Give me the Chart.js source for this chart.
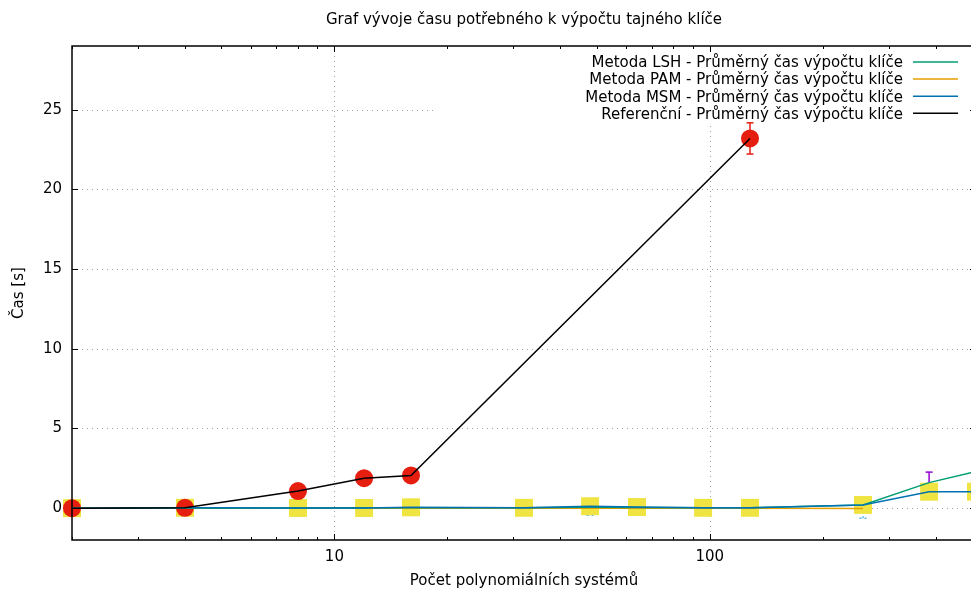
<!DOCTYPE html>
<html lang="cs">
<head>
<meta charset="utf-8">
<title>Graf vývoje času potřebného k výpočtu tajného klíče</title>
<script src="https://cdn.jsdelivr.net/npm/chart.js@4.4.1/dist/chart.umd.min.js"></script>
<style>
  html, body { margin: 0; padding: 0; background: #fff; overflow: hidden; }
  #obal { width: 1048px; height: 592px; }
</style>
</head>
<body>
<div id="obal"><canvas id="graf" width="1048" height="592"></canvas></div>
<script>
// ---------- Data ----------
const pocetSystemu = [2, 4, 8, 12, 16, 32, 48, 64, 96, 128, 256, 384, 512];

const casLSH   = [0, 0.01, 0.01, 0.02, 0.03, 0.02, 0.05, 0.04, 0.02, 0.02, 0.2, 1.6, 2.3];
const chybaLSH = [0, 0, 0, 0, 0, 0, 0, 0, 0, 0, 0, 0.66, 0.12];

const pocetPAM = [2, 4, 8, 12, 16, 32, 48, 64, 96, 128, 256];
const casPAM   = [0, 0, -0.01, -0.01, 0, -0.01, 0, 0, -0.01, -0.01, -0.02];
const chybaPAM = [0, 0, 0, 0, 0, 0, 0.45, 0.45, 0, 0, 0.62];

const casMSM   = [0, 0.02, 0.01, 0.01, 0.05, 0.02, 0.12, 0.07, 0.02, 0.02, 0.2, 1.03, 1.03];

const pocetRef = [2, 4, 8, 12, 16, 128];
const casRef   = [0, 0.02, 1.07, 1.88, 2.05, 23.2];
const chybaRef = [0, 0, 0, 0, 0, 0.98];

const yTicks  = [0, 5, 10, 15, 20, 25];
const xTicks  = [2, 3, 4, 5, 6, 7, 8, 9, 10, 20, 30, 40, 50, 60, 70, 80, 90, 100, 200, 300, 400, 500];
const xLabels = [10, 100];

const titulek = "Graf vývoje času potřebného k výpočtu tajného klíče";
const osaX = "Počet polynomiálních systémů";
const osaY = "Čas [s]";

const body = (xs, ys) => xs.map((x, i) => ({ x, y: ys[i] }));

// ---------- Kreslení rámu, mřížky, chybových úseček a legendy ----------
function usecka(ctx, x1, y1, x2, y2) {
  ctx.beginPath();
  ctx.moveTo(x1, y1);
  ctx.lineTo(x2, y2);
  ctx.stroke();
}

function chyboveUsecky(chart, xs, ys, errs, color, dash) {
  const { ctx, scales: { x, y } } = chart;
  ctx.strokeStyle = color;
  ctx.lineWidth = 1.5;
  ctx.setLineDash(dash || []);
  xs.forEach((xv, i) => {
    if (!errs[i]) return;
    const px = x.getPixelForValue(xv);
    const lo = y.getPixelForValue(ys[i] - errs[i]);
    const hi = y.getPixelForValue(ys[i] + errs[i]);
    usecka(ctx, px, lo, px, hi);
    usecka(ctx, px - 3.5, lo, px + 3.5, lo);
    usecka(ctx, px - 3.5, hi, px + 3.5, hi);
  });
  ctx.setLineDash([]);
}

const gnuplotRam = {
  id: "gnuplotRam",
  beforeDatasetsDraw(chart) {
    const { ctx, chartArea: a, scales: { x, y } } = chart;
    ctx.save();
    // mřížka
    ctx.strokeStyle = "#a0a0a0";
    ctx.lineWidth = 1;
    ctx.setLineDash([1, 4]);
    yTicks.forEach((v) => {
      const py = Math.round(y.getPixelForValue(v)) + 0.5;
      usecka(ctx, a.left, py, a.right, py);
    });
    xLabels.forEach((v) => {
      const px = Math.round(x.getPixelForValue(v)) + 0.5;
      usecka(ctx, px, a.top, px, a.bottom);
    });
    ctx.setLineDash([]);
    // neprůhledné pozadí legendy
    ctx.fillStyle = "#fff";
    ctx.fillRect(437, a.top, a.right - 437, 122 - a.top);
    // chybové úsečky
    chyboveUsecky(chart, pocetPAM, casPAM, chybaPAM, "#56b4e9", [2, 3]);
    chyboveUsecky(chart, pocetSystemu, casLSH, chybaLSH, "#9400d3");
    chyboveUsecky(chart, pocetRef, casRef, chybaRef, "#e51e10");
    ctx.restore();
  },
  afterDatasetsDraw(chart) {
    const { ctx, chartArea: a } = chart;
    ctx.save();
    ctx.font = '15px "DejaVu Sans"';
    ctx.textAlign = "right";
    ctx.textBaseline = "middle";
    ctx.fillStyle = "#000";
    chart.data.datasets
      .filter((d) => d.klic)
      .forEach((d, i) => {
        const yy = a.top + 16 + i * 17.1;
        ctx.fillText(d.label, a.right - 73, yy + 1.5);
        ctx.strokeStyle = d.borderColor;
        ctx.lineWidth = 1.5;
        usecka(ctx, a.right - 63, yy, a.right - 18, yy);
      });
    ctx.restore();
  },
  afterDraw(chart) {
    const { ctx, chartArea: a, scales: { x, y } } = chart;
    ctx.save();
    ctx.strokeStyle = "#000";
    ctx.lineWidth = 1;
    xTicks.forEach((v) => {
      const px = Math.round(x.getPixelForValue(v)) + 0.5;
      const len = xLabels.includes(v) ? 6 : 3;
      usecka(ctx, px, a.bottom, px, a.bottom - len);
      usecka(ctx, px, a.top, px, a.top + len);
    });
    yTicks.forEach((v) => {
      const py = Math.round(y.getPixelForValue(v)) + 0.5;
      usecka(ctx, a.left, py, a.left + 6, py);
      usecka(ctx, a.right, py, a.right - 6, py);
    });
    ctx.lineWidth = 1.5;
    ctx.strokeRect(Math.round(a.left), Math.round(a.top), Math.round(a.right - a.left), Math.round(a.bottom - a.top));
    ctx.restore();
  },
};

// ---------- Graf ----------
Chart.defaults.font.family = '"DejaVu Sans", sans-serif';
Chart.defaults.font.size = 15;
Chart.defaults.color = "#000";

const carovaRada = (label, xs, ys, color, order) => ({
  label,
  klic: true,
  data: body(xs, ys),
  showLine: true,
  borderColor: color,
  backgroundColor: color,
  borderWidth: 1.5,
  pointRadius: 0,
  tension: 0,
  fill: false,
  clip: false,
  order,
});

new Chart(document.getElementById("graf"), {
  type: "scatter",
  data: {
    datasets: [
      carovaRada("Metoda LSH - Průměrný čas výpočtu klíče", pocetSystemu, casLSH, "#009e73", 3),
      carovaRada("Metoda PAM - Průměrný čas výpočtu klíče", pocetPAM, casPAM, "#e69f00", 4),
      carovaRada("Metoda MSM - Průměrný čas výpočtu klíče", pocetSystemu, casMSM, "#0072b2", 2),
      carovaRada("Referenční - Průměrný čas výpočtu klíče", pocetRef, casRef, "#000000", 1),
      {
        label: "MSM body",
        data: body(pocetSystemu, casMSM),
        pointStyle: "rect",
        pointRadius: 12.7,
        backgroundColor: "#f0e442",
        borderWidth: 0,
        clip: false,
        order: 6,
      },
      {
        label: "Referenční body",
        data: body(pocetRef, casRef),
        pointStyle: "circle",
        pointRadius: 9,
        backgroundColor: "#e51e10",
        borderWidth: 0,
        clip: false,
        order: 5,
      },
    ],
  },
  options: {
    responsive: false,
    animation: false,
    devicePixelRatio: 1,
    layout: { padding: 0 },
    plugins: {
      legend: { display: false },
      tooltip: { enabled: false },
      title: {
        display: true,
        text: titulek,
        color: "#000",
        font: { size: 15, weight: "normal" },
        padding: { top: 11, bottom: 17 },
      },
    },
    scales: {
      x: {
        type: "logarithmic",
        position: "bottom",
        min: 2,
        max: 512,
        afterBuildTicks: (s) => { s.ticks = xTicks.map((v) => ({ value: v })); },
        afterFit: (s) => { s.height = 52; },
        ticks: {
          autoSkip: false,
          maxRotation: 0,
          minRotation: 0,
          padding: 8,
          callback: (v) => (xLabels.includes(v) ? String(v) : ""),
        },
        grid: { display: false, drawTicks: false },
        border: { display: false },
        title: { display: true, text: osaX, padding: { top: 0, bottom: 2 } },
      },
      y: {
        type: "linear",
        position: "left",
        min: -2,
        max: 29,
        afterBuildTicks: (s) => { s.ticks = yTicks.map((v) => ({ value: v })); },
        afterFit: (s) => { s.width = 72; },
        ticks: { padding: 10 },
        grid: { display: false, drawTicks: false },
        border: { display: false },
        title: { display: true, text: osaY, padding: { top: 10, bottom: 0 } },
      },
      y2: {
        type: "linear",
        position: "right",
        min: -2,
        max: 29,
        afterFit: (s) => { s.width = 72; },
        ticks: { display: false },
        grid: { display: false, drawTicks: false },
        border: { display: false },
      },
    },
  },
  plugins: [gnuplotRam],
});
</script>
</body>
</html>
